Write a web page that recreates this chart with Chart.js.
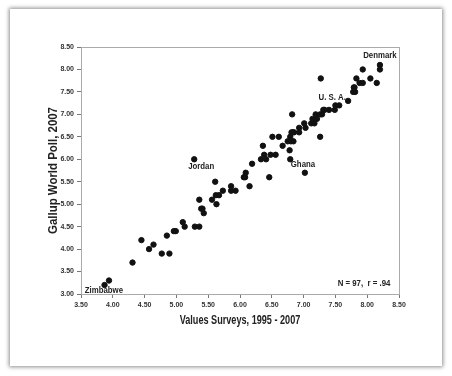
<!DOCTYPE html>
<html>
<head>
<meta charset="utf-8">
<script src="https://cdn.jsdelivr.net/npm/chart.js@4/dist/chart.umd.min.js"></script>
<style>
  html, body { margin: 0; padding: 0; background: #fff; }
  #wrap { position: relative; width: 452px; height: 376px; }
  #card { position: absolute; left: 10px; top: 9px; width: 432px; height: 357px; background: #fff;
          box-shadow: 0 0 4px 1px rgba(0,0,0,0.45); }
  canvas { position: absolute; left: 0; top: 0; }
</style>
</head>
<body>
<div id="wrap">
  <div id="card"></div>
  <canvas id="chart" width="452" height="376"></canvas>
</div>
<script>
// Values Surveys score (x) and Gallup World Poll score (y), one entry per country
var valuesSurvey = [3.87, 3.94, 4.31, 4.45, 4.57, 4.64, 4.77, 4.85, 4.89, 4.96, 4.99, 5.10, 5.13, 5.28, 5.29, 5.36,
    5.36, 5.39, 5.41, 5.43, 5.56, 5.61, 5.63, 5.62, 5.67, 5.73, 5.86, 5.86, 5.93, 6.06, 6.09, 6.08, 6.15, 6.19,
    6.33, 6.36, 6.38, 6.41, 6.46, 6.48, 6.51, 6.56, 6.61, 6.67, 6.75, 6.78, 6.79, 6.79, 6.81, 6.82, 6.85, 6.84,
    6.80, 6.93, 6.93, 7.01, 7.02, 7.03, 7.12, 7.14, 7.17, 7.19, 7.21, 7.26, 7.27, 7.26, 7.29, 7.31, 7.33, 7.40,
    7.49, 7.50, 7.56, 7.70, 7.78, 7.79, 7.81, 7.83, 7.88, 7.93, 7.93, 8.05, 8.15, 8.20, 8.20, 7.80, 6.83];
var gallupPoll = [3.2, 3.3, 3.7, 4.2, 4.0, 4.1, 3.9, 4.3, 3.9, 4.4, 4.4, 4.6, 4.5, 6.0, 4.5, 4.5,
    5.1, 4.9, 4.9, 4.8, 5.1, 5.5, 5.0, 5.2, 5.2, 5.3, 5.4, 5.3, 5.3, 5.6, 5.7, 5.6, 5.4, 5.9,
    6.0, 6.3, 6.1, 6.0, 5.6, 6.1, 6.5, 6.1, 6.5, 6.3, 6.4, 6.2, 6.0, 6.5, 6.6, 7.0, 6.6, 6.4,
    6.4, 6.6, 6.7, 6.8, 5.7, 6.7, 6.8, 6.9, 6.8, 7.0, 6.9, 7.0, 7.8, 6.5, 7.0, 7.1, 7.1, 7.1,
    7.1, 7.2, 7.2, 7.3, 7.5, 7.6, 7.5, 7.8, 7.7, 8.0, 7.7, 7.8, 7.7, 8.1, 8.0, 7.6, 6.6];

var xTicks = [3.5, 4.0, 4.5, 5.0, 5.5, 6.0, 6.5, 7.0, 7.5, 8.0, 8.5];
var yTicks = [3.0, 3.5, 4.0, 4.5, 5.0, 5.5, 6.0, 6.5, 7.0, 7.5, 8.0, 8.5];

var xTitle = "Values Surveys, 1995 - 2007";
var yTitle = "Gallup World Poll, 2007";

var noteTexts = ["Denmark", "U. S. A.", "Jordan", "Ghana", "Zimbabwe", "N = 97,  r = .94"];
var noteX = [8.20, 7.45, 5.39, 6.99, 3.86, 7.95];
var noteY = [8.31, 7.38, 5.83, 5.89, 3.07, 3.24];

var points = valuesSurvey.map(function (v, i) { return { x: v, y: gallupPoll[i] }; });

var FONT = "'Liberation Sans', Arial, sans-serif";

// the original uses a condensed face, so squeeze the text sideways
function narrowText(ctx, text, x, y, squeeze, angle) {
    ctx.save();
    ctx.translate(x, y);
    if (angle) ctx.rotate(angle);
    ctx.scale(squeeze, 1);
    ctx.fillText(text, 0, 0);
    ctx.restore();
}

var notesPlugin = {
    id: "notes",
    afterDatasetsDraw(chart) {
        var ctx = chart.ctx, xs = chart.scales.x, ys = chart.scales.y, a = chart.chartArea;
        ctx.save();
        ctx.fillStyle = "#222";
        ctx.textAlign = "center";
        ctx.textBaseline = "middle";
        ctx.font = "bold 9px " + FONT;
        noteTexts.forEach(function (t, i) {
            narrowText(ctx, t, xs.getPixelForValue(noteX[i]), ys.getPixelForValue(noteY[i]), 0.87);
        });
        ctx.font = "bold 12px " + FONT;
        narrowText(ctx, xTitle, (a.left + a.right) / 2, a.bottom + 27, 0.76);
        ctx.font = "bold 13px " + FONT;
        narrowText(ctx, yTitle, a.left - 27.5, (a.top + a.bottom) / 2, 0.88, -Math.PI / 2);
        // light frame round the plot
        ctx.strokeStyle = "#aaa";
        ctx.lineWidth = 1;
        ctx.strokeRect(Math.round(a.left) + 0.5, Math.round(a.top) + 0.5, Math.round(a.right - a.left), Math.round(a.bottom - a.top));
        ctx.restore();
    },
};

var tickFont = { family: FONT, size: 7, weight: "bold" };

new Chart(document.getElementById("chart"), {
    type: "scatter",
    data: {
        datasets: [{
            data: points,
            backgroundColor: "#111",
            borderColor: "#111",
            pointRadius: 2.7,
            pointHoverRadius: 2.7,
        }],
    },
    options: {
        responsive: false,
        animation: false,
        layout: { padding: { left: 0, right: 53, top: 47, bottom: 42 } },
        plugins: { legend: { display: false }, tooltip: { enabled: false } },
        scales: {
            x: {
                type: "linear", min: 3.5, max: 8.5,
                afterBuildTicks: function (s) { s.ticks = xTicks.map(function (v) { return { value: v }; }); },
                afterFit: function (s) { s.height = 40; },
                ticks: { font: tickFont, color: "#333", padding: 3, maxRotation: 0, autoSkip: false,
                    callback: function (v) { return Number(v).toFixed(2); } },
                grid: { drawOnChartArea: false, drawTicks: true, tickLength: 4, color: "#777" },
                border: { color: "#777" },
            },
            y: {
                type: "linear", min: 3.0, max: 8.5,
                afterBuildTicks: function (s) { s.ticks = yTicks.map(function (v) { return { value: v }; }); },
                afterFit: function (s) { s.width = 81; },
                ticks: { font: tickFont, color: "#333", padding: 3, autoSkip: false,
                    callback: function (v) { return Number(v).toFixed(2); } },
                grid: { drawOnChartArea: false, drawTicks: true, tickLength: 4, color: "#777" },
                border: { color: "#777" },
            },
        },
    },
    plugins: [notesPlugin],
});
</script>
</body>
</html>
